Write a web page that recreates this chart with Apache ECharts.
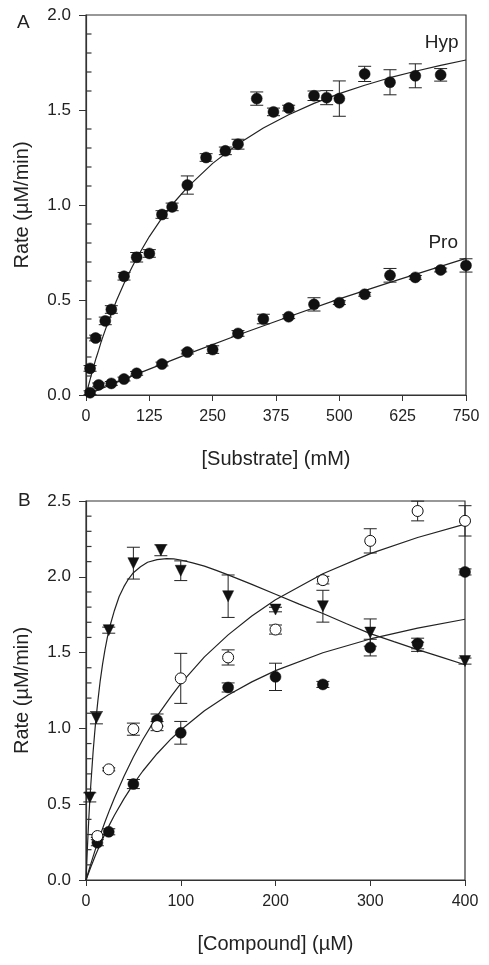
<!DOCTYPE html>
<html><head><meta charset="utf-8">
<script src="https://cdn.jsdelivr.net/npm/echarts@6/dist/echarts.min.js"></script>
<style>html,body{margin:0;padding:0;background:#fff}#c{width:489px;height:965px}</style>
</head><body><div id="c"></div>
<script>
// ---------- Panel A data ----------
const hypX   = [8,19,38,50,75,100,125,150,170,200,237,275,300,337,370,400,450,475,500,550,600,650,700];
const hypY   = [0.14,0.30,0.39,0.45,0.625,0.725,0.745,0.95,0.99,1.105,1.25,1.285,1.32,1.56,1.49,1.51,1.575,1.565,1.56,1.69,1.646,1.68,1.685];
const hypErr = [0.015,0.015,0.02,0.02,0.02,0.025,0.02,0.02,0.02,0.048,0.02,0.02,0.026,0.035,0.02,0.015,0.025,0.037,0.093,0.04,0.066,0.063,0.033];

const proX   = [8,25,50,75,100,150,200,250,300,350,400,450,500,550,600,650,700,750];
const proY   = [0.012,0.053,0.061,0.084,0.114,0.163,0.226,0.239,0.324,0.40,0.412,0.477,0.486,0.53,0.63,0.619,0.658,0.682];
const proErr = [0.01,0.01,0.01,0.01,0.01,0.01,0.01,0.02,0.015,0.025,0.01,0.035,0.01,0.01,0.036,0.01,0.01,0.035];

const hypCurveX = [0,5,10,15,20,25,30,40,50,60,75,90,100,125,150,175,200,250,300,350,400,450,500,550,600,650,700,750];
const hypCurveY = [0,0.051,0.101,0.149,0.195,0.236,0.281,0.357,0.428,0.496,0.587,0.668,0.720,0.834,0.932,1.017,1.093,1.219,1.321,1.405,1.475,1.535,1.586,1.630,1.670,1.704,1.735,1.763];
const proCurveX = [0,100,200,300,400,500,600,700,750];
const proCurveY = [0,0.110,0.215,0.316,0.412,0.506,0.593,0.677,0.719];

// ---------- Panel B data ----------
const triX   = [4,11,24,50,79,100,150,200,250,300,350,400];
const triY   = [0.545,1.07,1.648,2.09,2.175,2.04,1.872,1.784,1.806,1.632,1.538,1.444];
const triErr = [0.03,0.04,0.02,0.105,0.036,0.065,0.14,0.015,0.105,0.09,0.03,0.02];

const openX   = [12,24,50,75,100,150,200,250,300,350,400];
const openY   = [0.29,0.73,0.995,1.015,1.33,1.468,1.652,1.978,2.237,2.434,2.369];
const openErr = [0.01,0.01,0.04,0.03,0.165,0.05,0.03,0.025,0.08,0.065,0.1];

const fillX   = [12,24,50,75,100,150,200,250,300,350,400];
const fillY   = [0.246,0.318,0.633,1.055,0.971,1.27,1.34,1.29,1.533,1.56,2.032];
const fillErr = [0.02,0.02,0.03,0.04,0.075,0.03,0.09,0.02,0.055,0.035,0.02];

const triCurveX  = [0,1,2,3,4,5,6,7.5,9,10,12.5,15,17.5,20,22.5,25,30,35,40,45,50,57.5,65,75,85,92.5,100,112.5,125,137.5,150,175,200,225,250,275,300,325,350,375,400];
const triCurveY  = [0,0.146,0.282,0.409,0.527,0.622,0.712,0.846,0.958,1.030,1.180,1.314,1.424,1.518,1.599,1.669,1.778,1.870,1.935,1.987,2.027,2.066,2.096,2.113,2.120,2.118,2.111,2.092,2.070,2.042,2.013,1.950,1.885,1.820,1.758,1.690,1.625,1.572,1.520,1.470,1.420];
const openCurveX = [0,5,10,15,20,25,30,40,50,60,75,90,100,125,150,175,200,250,300,350,400];
const openCurveY = [0,0.105,0.204,0.296,0.383,0.464,0.541,0.683,0.811,0.927,1.081,1.213,1.296,1.472,1.617,1.741,1.848,2.020,2.153,2.259,2.347];
const fillCurveX = [0,5,10,15,20,25,30,40,50,60,75,90,100,125,150,175,200,250,300,350,400];
const fillCurveY = [0,0.084,0.163,0.235,0.303,0.367,0.427,0.535,0.632,0.719,0.833,0.932,0.990,1.116,1.220,1.307,1.381,1.499,1.590,1.662,1.720];

// ---------- Minor tick values (y axes) ----------
const minorTicksA = [0.1,0.2,0.3,0.4,0.6,0.7,0.8,0.9,1.1,1.2,1.3,1.4,1.6,1.7,1.8,1.9];
const minorTicksB = [0.1,0.2,0.3,0.4,0.6,0.7,0.8,0.9,1.1,1.2,1.3,1.4,1.6,1.7,1.8,1.9,2.1,2.2,2.3,2.4];

// ---------- Labels ----------
const panelLabels = ['A','B'];
const xNames = ['[Substrate] (mM)','[Compound] (\u00b5M)'];
const yName = 'Rate (\u00b5M/min)';
const curveLabels = [{text:'Hyp', x:702, y:1.855},{text:'Pro', x:705, y:0.80}];

const FONT = '"Liberation Sans", Arial, sans-serif';
const TXT = '#222';
const AX = '#333';

const pairs = (xs, ys) => xs.map((x,i)=>[x, ys[i]]);
const triples = (xs, ys, es) => xs.map((x,i)=>[x, ys[i], es[i]]);

function errBar(params, api){
  const x = api.value(0), y = api.value(1), e = api.value(2);
  const t = api.coord([x, y+e]), b = api.coord([x, y-e]);
  const w = 6.5;
  const st = {stroke:'#222', lineWidth:1};
  return {type:'group', children:[
    {type:'line', shape:{x1:t[0],y1:t[1],x2:b[0],y2:b[1]}, style:st},
    {type:'line', shape:{x1:t[0]-w,y1:t[1],x2:t[0]+w,y2:t[1]}, style:st},
    {type:'line', shape:{x1:b[0]-w,y1:b[1],x2:b[0]+w,y2:b[1]}, style:st}
  ]};
}
function minorTick(params, api){
  const p = api.coord([api.value(0), api.value(1)]);
  return {type:'line', shape:{x1:p[0], y1:p[1], x2:p[0]+5.5, y2:p[1]}, style:{stroke:'#333', lineWidth:1.2}};
}

function xAxisCfg(g, max, interval, name, gap){
  return {type:'value', gridIndex:g, min:0, max:max, interval:interval,
    name:name, nameLocation:'middle', nameGap:gap,
    nameTextStyle:{fontFamily:FONT, fontSize:20, color:TXT},
    axisLine:{show:true, lineStyle:{color:AX, width:1.2}},
    axisTick:{show:true, inside:false, length:6, lineStyle:{color:AX}},
    axisLabel:{fontFamily:FONT, fontSize:16, color:TXT, margin:14},
    splitLine:{show:false}};
}
function yAxisCfg(g, max, interval){
  return {type:'value', gridIndex:g, position:'left', min:0, max:max, interval:interval,
    name:yName, nameLocation:'middle', nameGap:54, nameRotate:90,
    nameTextStyle:{fontFamily:FONT, fontSize:20, color:TXT},
    axisLine:{show:true, lineStyle:{color:AX, width:1.2}},
    axisTick:{show:true, inside:false, length:7, lineStyle:{color:AX}},
    axisLabel:{fontFamily:FONT, fontSize:17, color:TXT, margin:15, formatter:v=>v.toFixed(1)},
    splitLine:{show:false}};
}

function scatter(xi, yi, data, symbol, open, rot){
  return {type:'scatter', xAxisIndex:xi, yAxisIndex:yi, data:data, symbol:symbol,
    symbolSize: 11, symbolRotate: rot||0, z:5,
    itemStyle: open ? {color:'#fff', borderColor:'#111', borderWidth:1, opacity:1} : {color:'#111', borderColor:'#111', borderWidth:0.5, opacity:1}};
}
function curve(xi, yi, data){
  return {type:'line', xAxisIndex:xi, yAxisIndex:yi, data:data, smooth:false,
    showSymbol:false, symbol:'none', lineStyle:{color:'#222', width:1.2}, z:2, silent:true};
}
function errs(xi, yi, data){
  return {type:'custom', xAxisIndex:xi, yAxisIndex:yi, data:data, renderItem:errBar,
    encode:{x:0, y:1}, z:3, silent:true};
}
function minors(xi, yi, vals){
  return {type:'custom', xAxisIndex:xi, yAxisIndex:yi, data:vals.map(v=>[0, v]), renderItem:minorTick,
    encode:{x:0, y:1}, clip:false, z:10, silent:true};
}

const option = {
  animation:false,
  backgroundColor:'#fff',
  title: [
    {text:panelLabels[0], left:12, top:8, textStyle:{fontFamily:FONT, fontSize:19, fontWeight:'normal', color:TXT}},
    {text:panelLabels[1], left:13, top:486, textStyle:{fontFamily:FONT, fontSize:19, fontWeight:'normal', color:TXT}}
  ],
  grid: [
    {left:86, top:15, width:380, height:380, show:true, borderColor:AX, borderWidth:1.2, backgroundColor:'transparent'},
    {left:86, top:501, width:379, height:379, show:true, borderColor:AX, borderWidth:1.2, backgroundColor:'transparent'}
  ],
  xAxis: [ xAxisCfg(0, 750, 125, xNames[0], 54), xAxisCfg(1, 400, 100, xNames[1], 54) ],
  yAxis: [ yAxisCfg(0, 2.0, 0.5), yAxisCfg(1, 2.5, 0.5) ],
  series: [
    minors(0,0, minorTicksA),
    curve(0,0, pairs(hypCurveX, hypCurveY)),
    curve(0,0, pairs(proCurveX, proCurveY)),
    errs(0,0, triples(hypX, hypY, hypErr)),
    errs(0,0, triples(proX, proY, proErr)),
    scatter(0,0, pairs(hypX, hypY), 'circle', false),
    scatter(0,0, pairs(proX, proY), 'circle', false),
    {type:'scatter', xAxisIndex:0, yAxisIndex:0, symbolSize:1, itemStyle:{color:'rgba(0,0,0,0)', opacity:1}, z:6, silent:true,
      data: curveLabels.map(l=>({value:[l.x, l.y], name:l.text})),
      label:{show:true, position:'inside', formatter:p=>p.name, fontFamily:FONT, fontSize:19, color:TXT}},

    minors(1,1, minorTicksB),
    curve(1,1, pairs(triCurveX, triCurveY)),
    curve(1,1, pairs(openCurveX, openCurveY)),
    curve(1,1, pairs(fillCurveX, fillCurveY)),
    errs(1,1, triples(triX, triY, triErr)),
    errs(1,1, triples(openX, openY, openErr)),
    errs(1,1, triples(fillX, fillY, fillErr)),
    scatter(1,1, pairs(fillX, fillY), 'circle', false),
    scatter(1,1, pairs(openX, openY), 'circle', true),
    scatter(1,1, pairs(triX, triY), 'triangle', false, 180)
  ]
};
const chart = echarts.init(document.getElementById('c'), null, {renderer:'canvas'});
chart.setOption(option);
</script></body></html>
